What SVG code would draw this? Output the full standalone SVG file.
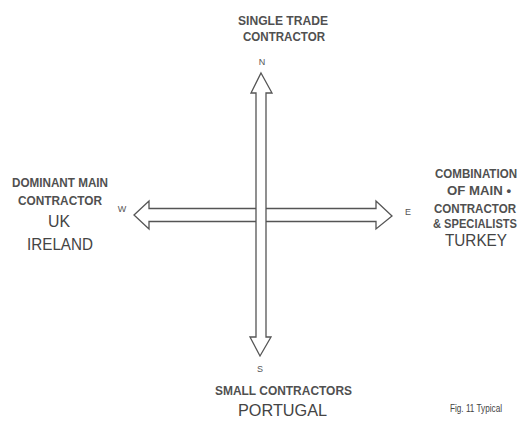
<svg xmlns="http://www.w3.org/2000/svg" width="527" height="421" viewBox="0 0 527 421">
<style>
.cap{font-family:"Liberation Sans",Arial,sans-serif;font-size:13px;font-weight:bold;fill:#505050;text-anchor:middle}
.sm{font-size:12px}
.big{font-family:"Liberation Sans",Arial,sans-serif;font-size:17px;fill:#444;text-anchor:middle}
.dir{font-family:"Liberation Sans",Arial,sans-serif;font-size:9px;fill:#555;text-anchor:middle}
.fig{font-family:"Liberation Sans",Arial,sans-serif;font-size:11px;fill:#444;text-anchor:middle}
.arr{fill:#fff;stroke:#555;stroke-width:1.3;stroke-linejoin:miter}
</style>
<rect width="527" height="421" fill="#fff"/>
<g id="connectors">
<polygon class="arr" points="134,215 149,201 149,208.5 376,208.5 376,201 392,216 376,229 376,221.5 149,221.5 149,229"/>
<polygon class="arr" points="261,73 272,93 266,93 266,337 271,337 260,356 250,337 256,337 256,93 251,93"/>
</g>
<g id="north">
<text class="cap" x="283" y="25" textLength="90" lengthAdjust="spacingAndGlyphs">SINGLE TRADE</text>
<text class="cap" x="284" y="41" textLength="82" lengthAdjust="spacingAndGlyphs">CONTRACTOR</text>
<text class="dir" x="262" y="65">N</text>
</g>
<g id="west">
<text class="cap" x="60" y="187" textLength="96" lengthAdjust="spacingAndGlyphs">DOMINANT MAIN</text>
<text class="cap" x="60" y="205" textLength="84" lengthAdjust="spacingAndGlyphs">CONTRACTOR</text>
<text class="big" x="59" y="227" textLength="22" lengthAdjust="spacingAndGlyphs">UK</text>
<text class="big" x="60" y="250" textLength="66" lengthAdjust="spacingAndGlyphs">IRELAND</text>
<text class="dir" x="122" y="212">W</text>
</g>
<g id="east">
<text class="cap" x="476" y="178" textLength="82" lengthAdjust="spacingAndGlyphs">COMBINATION</text>
<text class="cap" x="479" y="195" textLength="64" lengthAdjust="spacingAndGlyphs">OF MAIN •</text>
<text class="cap sm" x="475" y="213" textLength="82" lengthAdjust="spacingAndGlyphs">CONTRACTOR</text>
<text class="cap sm" x="475" y="228" textLength="84" lengthAdjust="spacingAndGlyphs">&amp; SPECIALISTS</text>
<text class="big" x="476" y="246" textLength="62" lengthAdjust="spacingAndGlyphs">TURKEY</text>
<text class="dir" x="408" y="215">E</text>
</g>
<g id="south">
<text class="dir" x="260" y="372">S</text>
<text class="cap" x="283.5" y="395" textLength="137" lengthAdjust="spacingAndGlyphs">SMALL CONTRACTORS</text>
<text class="big" x="282.5" y="416" textLength="89" lengthAdjust="spacingAndGlyphs">PORTUGAL</text>
</g>
<g id="caption">
<text class="fig" x="476" y="412" textLength="52" lengthAdjust="spacingAndGlyphs">Fig. 11 Typical</text>
</g>
</svg>
